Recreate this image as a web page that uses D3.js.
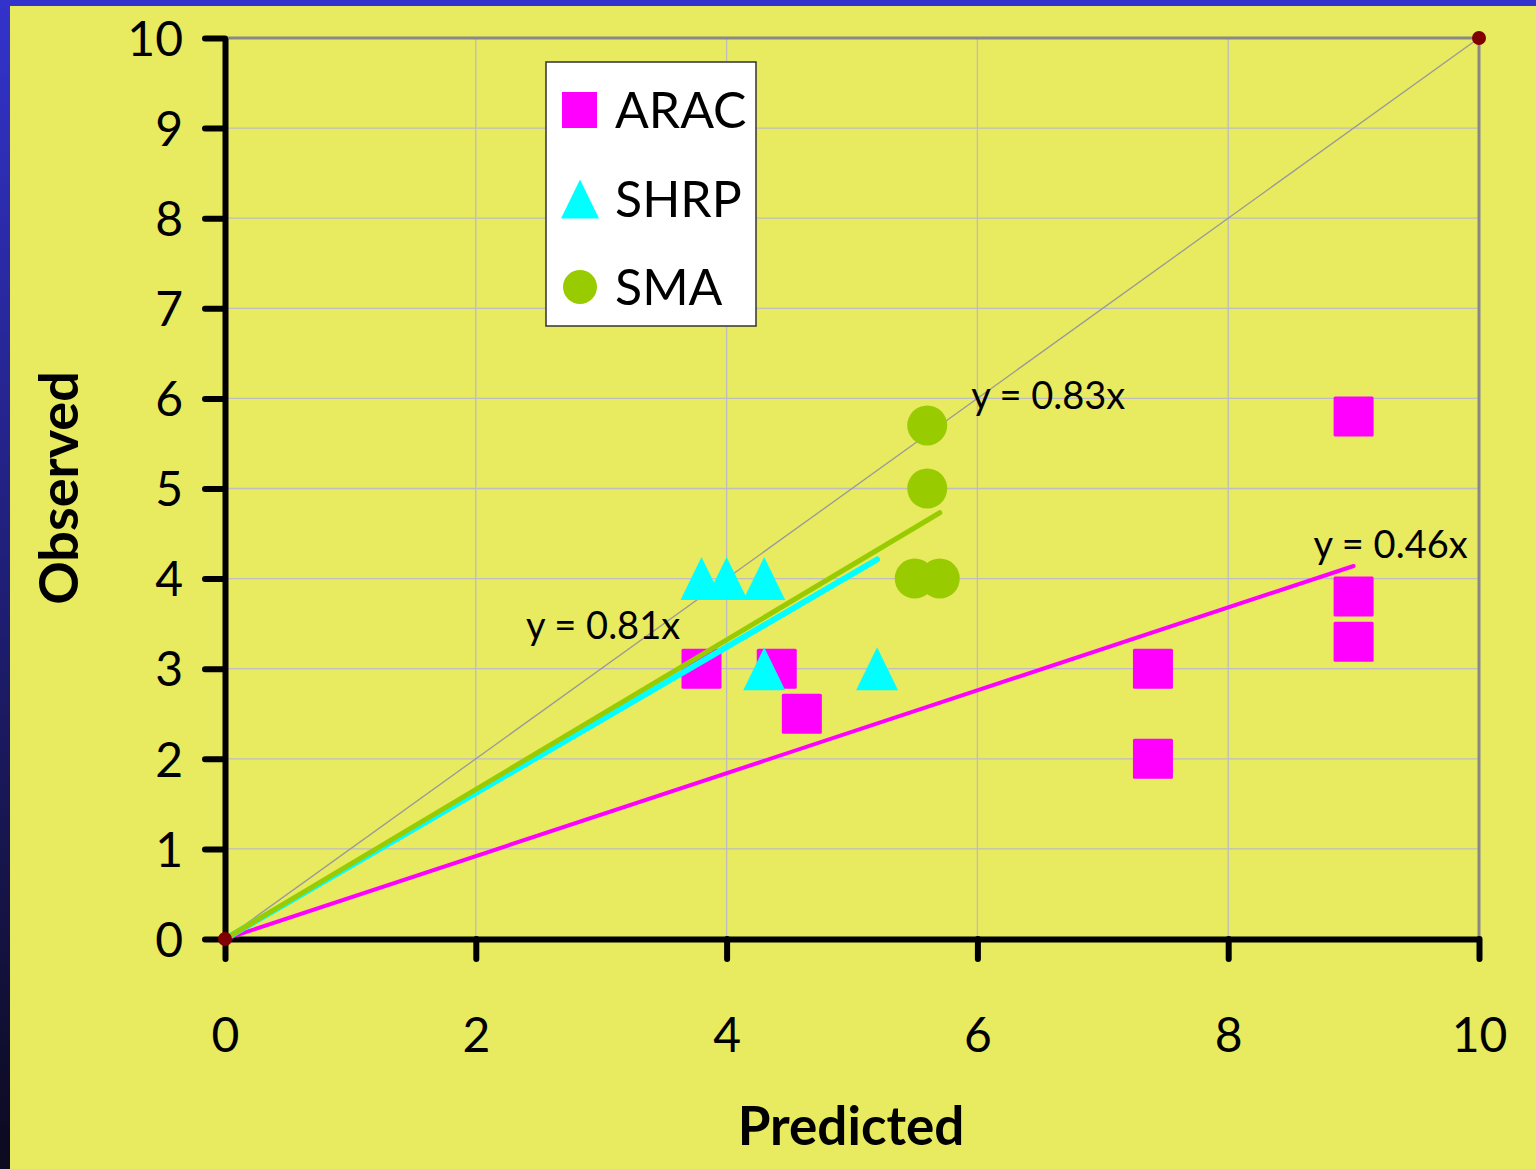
<!DOCTYPE html>
<html>
<head>
<meta charset="utf-8">
<script src="https://d3js.org/d3.v7.min.js"></script>
<style>
  body { margin: 0; background: #3333cc; }
  .tick text { font-family: "Comic Sans MS", Lato, sans-serif; }
</style>
</head>
<body>
<svg id="chart" width="1536" height="1169"></svg>
<script>
// data
var aracX = [3.8, 4.4, 4.6, 7.4, 7.4, 9.0, 9.0, 9.0];
var aracY = [3.0, 3.0, 2.5, 3.0, 2.0, 5.8, 3.8, 3.3];
var shrpX = [3.8, 4.0, 4.3, 4.3, 5.2];
var shrpY = [4.0, 4.0, 4.0, 3.0, 3.0];
var smaX = [5.6, 5.6, 5.5, 5.7];
var smaY = [5.7, 5.0, 4.0, 4.0];
// trend line slopes (through origin) and their end x
var slopes = [0.46, 0.81, 0.83];
var trendEnd = [9.0, 5.2, 5.7];
var trendNames = ["ARAC", "SHRP", "SMA"];
var trendLabels = ["y = 0.46x", "y = 0.81x", "y = 0.83x"];
var seriesNames = ["ARAC", "SHRP", "SMA"];
var yTicks = [0, 1, 2, 3, 4, 5, 6, 7, 8, 9, 10];
var xTicks = [0, 2, 4, 6, 8, 10];

var colors = { ARAC: "#ff00ff", SHRP: "#00ffff", SMA: "#99cc00" };
var font = "'Comic Sans MS', Lato, sans-serif";

var svg = d3.select("#chart");
var W = 1536, H = 1169;
var pLeft = 225, pRight = 1479, pTop = 38, pBottom = 939;

// background: blue frame with dark gradient on the left edge
var defs = svg.append("defs");
var grad = defs.append("linearGradient").attr("id", "edge")
    .attr("x1", 0).attr("y1", 0).attr("x2", 0).attr("y2", 1);
grad.append("stop").attr("offset", "0%").attr("stop-color", "#3333cc");
grad.append("stop").attr("offset", "100%").attr("stop-color", "#0c0a1e");
svg.append("rect").attr("width", W).attr("height", H).attr("fill", "#3333cc");
svg.append("rect").attr("width", 10).attr("height", H).attr("fill", "url(#edge)");
svg.append("rect").attr("x", 10).attr("y", 6).attr("width", W - 10).attr("height", H - 6).attr("fill", "#e8ea60");

var x = d3.scaleLinear().domain([0, 10]).range([pLeft, pRight]);
var y = d3.scaleLinear().domain([0, 10]).range([pBottom, pTop]);

// gridlines
svg.append("g").selectAll("line").data(yTicks.slice(1, -1)).enter().append("line")
    .attr("x1", pLeft).attr("x2", pRight)
    .attr("y1", function (d) { return y(d); }).attr("y2", function (d) { return y(d); })
    .attr("stroke", "#bdbdc2").attr("stroke-width", 1.3);
svg.append("g").selectAll("line").data(xTicks.slice(1, -1)).enter().append("line")
    .attr("y1", pTop).attr("y2", pBottom)
    .attr("x1", function (d) { return x(d); }).attr("x2", function (d) { return x(d); })
    .attr("stroke", "#bdbdc2").attr("stroke-width", 1.3);

// plot frame top and right
svg.append("path")
    .attr("d", "M" + pLeft + "," + pTop + "H" + pRight + "V" + pBottom)
    .attr("fill", "none").attr("stroke", "#888").attr("stroke-width", 3);

// 1:1 line
svg.append("line")
    .attr("x1", x(0)).attr("y1", y(0)).attr("x2", x(10)).attr("y2", y(10))
    .attr("stroke", "#999").attr("stroke-width", 1.3);

// axes
var yAxis = d3.axisLeft(y).tickValues(yTicks).tickSize(20).tickSizeOuter(0).tickPadding(22);
var xAxis = d3.axisBottom(x).tickValues(xTicks).tickSize(20).tickSizeOuter(0).tickPadding(76);

var gy = svg.append("g").attr("transform", "translate(" + pLeft + ",0)").call(yAxis);
var gx = svg.append("g").attr("transform", "translate(0," + pBottom + ")").call(xAxis);
[gy, gx].forEach(function (g) {
    g.select(".domain").attr("stroke", "#000").attr("stroke-width", 6);
    g.selectAll(".tick line").attr("stroke", "#000").attr("stroke-width", 6).attr("stroke-linecap", "round");
    g.selectAll(".tick text").attr("fill", "#000").style("font-size", "48px");
});
gy.selectAll(".tick text").attr("dy", "0.36em");
gx.selectAll(".tick text").attr("dy", "0.36em");

// axis titles
svg.append("text").attr("x", 851).attr("y", 1145).attr("text-anchor", "middle")
    .style("font-family", font).style("font-weight", "bold").style("font-size", "53px")
    .text("Predicted");
svg.append("text").attr("transform", "translate(78,488) rotate(-90)").attr("text-anchor", "middle")
    .style("font-family", font).style("font-weight", "bold").style("font-size", "54px")
    .text("Observed");

// markers
function pts(xs, ys) { return xs.map(function (v, i) { return [v, ys[i]]; }); }

var sq = 40;
svg.append("g").selectAll("rect").data(pts(aracX, aracY)).enter().append("rect")
    .attr("x", function (d) { return x(d[0]) - sq / 2; })
    .attr("y", function (d) { return y(d[1]) - sq / 2; })
    .attr("width", sq).attr("height", sq).attr("rx", 1.5)
    .attr("fill", colors.ARAC);

var tri = function (cx, cy, w, h) {
    return "M" + cx + "," + (cy - h * 0.5) + "L" + (cx + w / 2) + "," + (cy + h * 0.5) + "L" + (cx - w / 2) + "," + (cy + h * 0.5) + "Z";
};
svg.append("g").selectAll("path").data(pts(shrpX, shrpY)).enter().append("path")
    .attr("d", function (d) { return tri(x(d[0]), y(d[1]), 42, 43); })
    .attr("fill", colors.SHRP);

svg.append("g").selectAll("circle").data(pts(smaX, smaY)).enter().append("circle")
    .attr("cx", function (d) { return x(d[0]); })
    .attr("cy", function (d) { return y(d[1]); })
    .attr("r", 20).attr("fill", colors.SMA);

// trend lines
var widths = [4, 6, 5];
[0, 1, 2].forEach(function (i) {
    svg.append("line")
        .attr("x1", x(0)).attr("y1", y(0))
        .attr("x2", x(trendEnd[i])).attr("y2", y(slopes[i] * trendEnd[i]))
        .attr("stroke", colors[trendNames[i]]).attr("stroke-width", widths[i])
        .attr("stroke-linecap", "round");
});

// end dots of 1:1 line
svg.append("g").selectAll("circle").data([0, 10]).enter().append("circle")
    .attr("cx", function (d) { return x(d); }).attr("cy", function (d) { return y(d); })
    .attr("r", 7).attr("fill", "#800000");

// trend labels
var labelPos = [[8.68, 4.23], [2.4, 3.33], [5.95, 5.88]];
trendLabels.forEach(function (t, i) {
    svg.append("text")
        .attr("x", x(labelPos[i][0])).attr("y", y(labelPos[i][1]))
        .style("font-family", font).style("font-size", "38px")
        .text(t);
});

// legend
var lg = svg.append("g").attr("transform", "translate(546,62)");
lg.append("rect").attr("width", 210).attr("height", 264)
    .attr("fill", "#fff").attr("stroke", "#333").attr("stroke-width", 1.5);
var rowY = [48, 137, 225];
lg.append("rect").attr("x", 16).attr("y", rowY[0] - 18).attr("width", 35).attr("height", 36).attr("fill", colors.ARAC);
lg.append("path").attr("d", tri(34, rowY[1], 38, 39)).attr("fill", colors.SHRP);
lg.append("circle").attr("cx", 34).attr("cy", rowY[2]).attr("r", 17).attr("fill", colors.SMA);
seriesNames.forEach(function (n, i) {
    lg.append("text").attr("x", 69).attr("y", rowY[i] + 18)
        .style("font-family", font).style("font-size", "50px").text(n);
});
</script>
</body>
</html>
